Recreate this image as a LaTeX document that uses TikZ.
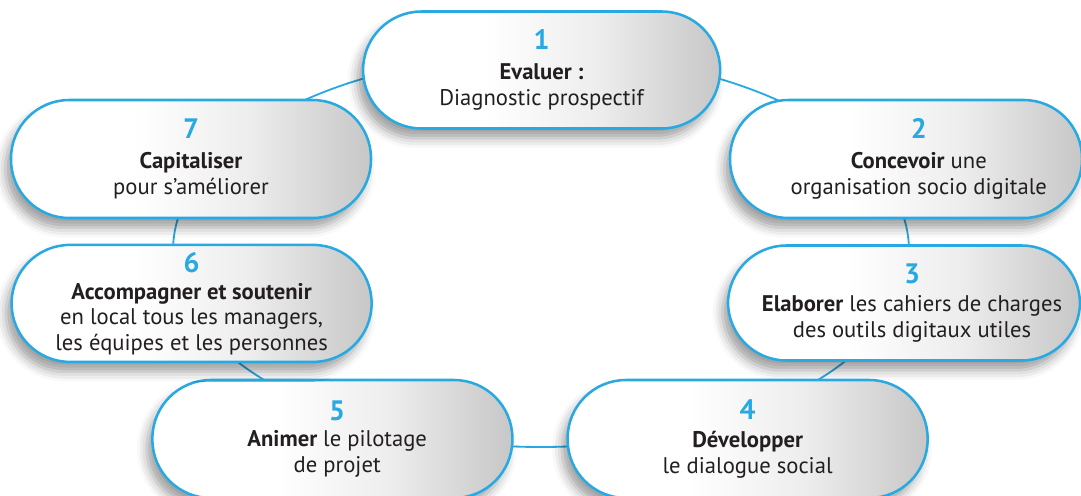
\documentclass[tikz,border=0pt]{standalone}
\usepackage{fontspec}
\setmainfont{PT Sans}
\usetikzlibrary{shadows.blur}

\definecolor{ringblue}{HTML}{29A9E1}
\definecolor{txtgray}{HTML}{231F20}

% white on the left, grey towards the right end
\pgfdeclarehorizontalshading{pillgrad}{100bp}{color(0bp)=(white); color(25bp)=(white);
  color(42bp)=(white); color(58bp)=(black!7); color(75bp)=(black!22); color(100bp)=(black!22)}

\tikzset{
  pill/.style={draw=ringblue, line width=1.8pt, shade, shading=pillgrad,
    rounded corners=1.46cm, minimum width=9cm, minimum height=2.95cm,
    blur shadow={shadow xshift=-4pt, shadow yshift=-7pt, shadow opacity=38,
      shadow blur radius=7pt}},
  steptext/.style={align=center, text=txtgray, font=\fontsize{16.1}{18.2}\selectfont},
  ring/.style={draw=ringblue, line width=1.3pt},
}
\newcommand{\stepnum}[1]{{\fontsize{20}{20}\selectfont\bfseries\color{ringblue}#1}}

\begin{document}
\begin{tikzpicture}
    \useasboundingbox (0,0) rectangle (27.025,12.375);

    % the ring behind the steps
    \coordinate (c) at (13.525,6.11);
    \draw[ring] (c) ellipse [x radius=9.2cm, y radius=4.91cm];

    % the steps
    \node[pill, minimum width=8.925cm, minimum height=2.925cm] (p1) at (13.54,10.625) {};
    \node[pill, minimum width=8.8cm] (p2) at (22.65,8.4) {};
    \node[pill, minimum width=8.8cm, minimum height=2.875cm] (p3) at (22.6,4.8) {};
    \node[pill] (p4) at (18.69,1.4) {};
    \node[pill] (p5) at (8.31,1.4) {};
    \node[pill, minimum height=2.925cm] (p6) at (4.79,4.79) {};
    \node[pill] (p7) at (4.775,8.4) {};

    \node[steptext] (t1) at (p1) {\stepnum{1}\\[3pt]\textbf{Evaluer :}\\Diagnostic prospectif};
    \node[steptext] (t2) at ([xshift=3.2mm]p2.center) {\stepnum{2}\\[3pt]\textbf{Concevoir} une\\organisation socio digitale};
    \node[steptext] (t3) at ([xshift=2mm]p3.center) {\stepnum{3}\\[2pt]\textbf{Elaborer} les cahiers de charges\\des outils digitaux utiles};
    \node[steptext] (t4) at (p4) {\stepnum{4}\\[2pt]\textbf{Développer}\\le dialogue social};
    \node[steptext] (t5) at ([xshift=1.2mm]p5.center) {\stepnum{5}\\\textbf{Animer} le pilotage\\de projet};
    \node[steptext] (t6) at (p6) {\stepnum{6}\\[1pt]\textbf{Accompagner et soutenir}\\en local tous les managers,\\les équipes et les personnes};
    \node[steptext] (t7) at (p7) {\stepnum{7}\\[3pt]\textbf{Capitaliser}\\pour s’améliorer};

\end{tikzpicture}
\end{document}
